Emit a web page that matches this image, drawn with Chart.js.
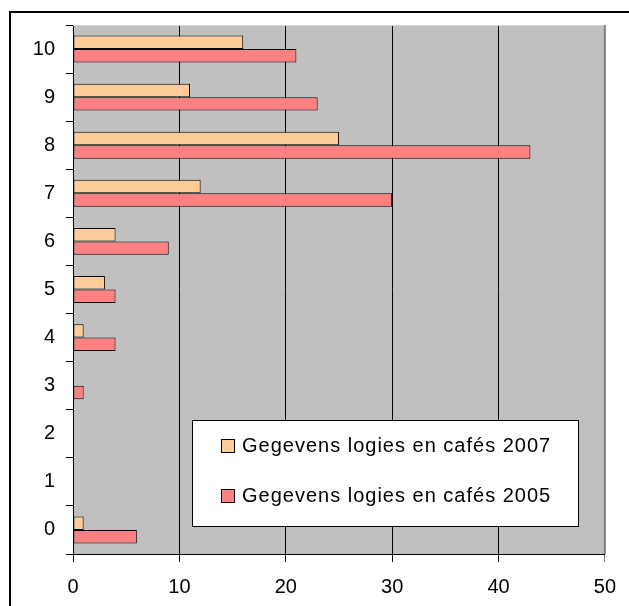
<!DOCTYPE html>
<html>
<head>
<meta charset="utf-8">
<script src="https://cdn.jsdelivr.net/npm/chart.js@4/dist/chart.umd.min.js"></script>
<style>
html,body{margin:0;padding:0;background:#fff;}
#wrap{width:629px;height:606px;position:relative;}
</style>
</head>
<body>
<div id="wrap"><canvas id="c" width="629" height="606"></canvas></div>
<script>
// Categories from top to bottom as drawn
const categories = ['10','9','8','7','6','5','4','3','2','1','0'];
const series2007 = [16, 11, 25, 12, 4, 3, 1, 0, 0, 0, 1];
const series2005 = [21, 23, 43, 30, 9, 4, 4, 1, 0, 0, 6];
const seriesNames = ['Gegevens logies en cafés 2007', 'Gegevens logies en cafés 2005'];
const seriesColors = ['#FFCC99', '#FF8080'];
const xTicks = [0, 10, 20, 30, 40, 50];

const FONT = 'Arial, "Liberation Sans", sans-serif';

const decor = {
  id: 'decor',
  beforeDraw(chart) {
    const ctx = chart.ctx, a = chart.chartArea;
    ctx.save();
    ctx.fillStyle = '#ffffff';
    ctx.fillRect(0, 0, chart.width, chart.height);
    // outer frame
    ctx.fillStyle = '#000000';
    ctx.fillRect(9, 11, chart.width - 9, 2);
    ctx.fillRect(9, 11, 2, chart.height - 11);
    // plot background
    ctx.fillStyle = '#C0C0C0';
    ctx.fillRect(a.left, a.top, a.right - a.left, a.bottom - a.top);
    ctx.restore();
  },
  afterDraw(chart) {
    const ctx = chart.ctx, a = chart.chartArea;
    ctx.save();
    // plot edges
    ctx.fillStyle = '#d6d6d6';
    ctx.fillRect(a.left, a.top, a.right - a.left, 1);
    ctx.fillStyle = '#808080';
    ctx.fillRect(a.right - 1, a.top, 2, a.bottom - a.top);
    // legend
    const bx = 192.5, by = 420.5, bw = 386, bh = 106;
    ctx.fillStyle = '#ffffff';
    ctx.fillRect(bx, by, bw, bh);
    ctx.strokeStyle = '#000000';
    ctx.lineWidth = 1;
    ctx.strokeRect(bx, by, bw, bh);
    const rows = [446, 496];
    chart.data.datasets.forEach((ds, i) => {
      const cy = rows[i];
      ctx.fillStyle = ds.backgroundColor;
      ctx.fillRect(221.5, cy - 6.5, 13, 13);
      ctx.strokeRect(221.5, cy - 6.5, 13, 13);
      ctx.fillStyle = '#000000';
      ctx.font = '20px ' + FONT;
      ctx.textBaseline = 'alphabetic';
      ctx.textAlign = 'left';
      try { ctx.letterSpacing = '1px'; } catch (e) {}
      ctx.fillText(ds.label, 242, cy + 6);
      try { ctx.letterSpacing = '0px'; } catch (e) {}
    });
    ctx.restore();
  }
};

new Chart(document.getElementById('c'), {
  type: 'bar',
  data: {
    labels: categories,
    datasets: [
      { label: seriesNames[0], data: series2007, backgroundColor: seriesColors[0] },
      { label: seriesNames[1], data: series2005, backgroundColor: seriesColors[1] }
    ]
  },
  options: {
    indexAxis: 'y',
    responsive: false,
    animation: false,
    devicePixelRatio: 1,
    layout: { padding: { left: 0, top: 25, right: 23, bottom: 0 } },
    datasets: {
      bar: {
        borderColor: '#000000',
        borderWidth: 1,
        borderSkipped: false,
        categoryPercentage: 0.56,
        barPercentage: 1.0
      }
    },
    plugins: {
      legend: { display: false },
      tooltip: { enabled: false }
    },
    scales: {
      x: {
        type: 'linear',
        min: 0,
        max: 50,
        afterBuildTicks(scale) { scale.ticks = xTicks.map(v => ({ value: v })); },
        afterFit(scale) { scale.height = 52; },
        grid: {
          color: ctx => (ctx.tick && ctx.tick.value === 50) ? '#808080' : '#000000',
          lineWidth: 1,
          drawTicks: true,
          tickLength: 8,
          tickColor: ctx => (ctx.tick && ctx.tick.value === 50) ? '#808080' : '#000000'
        },
        border: { display: true, color: '#000000', width: 1 },
        ticks: {
          color: '#000000',
          font: { family: FONT, size: 20 },
          padding: 13,
          maxRotation: 0
        }
      },
      y: {
        afterFit(scale) { scale.width = 73; },
        offset: true,
        grid: {
          offset: true,
          drawOnChartArea: false,
          drawTicks: true,
          tickLength: 7,
          color: '#000000'
        },
        border: { display: true, color: '#000000', width: 1 },
        ticks: {
          color: '#000000',
          font: { family: FONT, size: 20 },
          padding: 11
        }
      }
    }
  },
  plugins: [decor]
});
</script>
</body>
</html>
